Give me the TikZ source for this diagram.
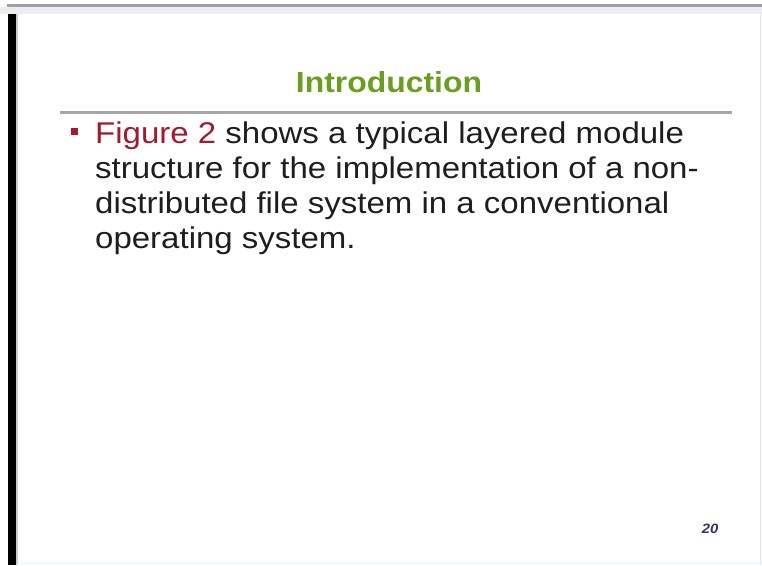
\documentclass[tikz,border=0pt]{standalone}
\usepackage{fontspec}
\setmainfont{Liberation Sans}[FakeStretch=1.1]
\usetikzlibrary{positioning}
\definecolor{titlegreen}{HTML}{6B9E1F}
\definecolor{figred}{HTML}{A3192F}
\definecolor{textgray}{HTML}{1E1E1E}
\definecolor{barblue}{HTML}{9DA1AD}
\definecolor{pagenum}{HTML}{33336E}

\begin{document}
\begin{tikzpicture}[x=1pt,y=-1pt,
  bodyline/.style={anchor=base west,inner sep=0pt,text=textgray,font=\fontsize{30}{35}\selectfont}]
{
\useasboundingbox (0,0) rectangle (762,565);
\fill[white] (0,0) rectangle (762,565);
\fill[gray!14] (0,7) rectangle (762,14);
\fill[barblue] (7,4) rectangle (762,7);
\fill[black] (8,14) rectangle (16,565);
\fill[gray!40] (16,14) rectangle (17.5,565);
\draw[gray!20] (760.5,14) -- (760.5,565);
\draw[cyan!12,line width=1.5pt] (17,563.5) -- (762,563.5);
\node[inner sep=0pt,anchor=base,text=titlegreen,font=\fontsize{29}{34}\selectfont\bfseries] (title) at (389,92) {Introduction};
\draw[gray!70,line width=3pt] (60,112) -- (732,112);
\fill[figred] (71,128) rectangle (77.5,134.5);
\node[bodyline] (line1) at (95,143) {\textcolor{figred}{Figure 2} shows a typical layered module};
\foreach \i/\y/\txt in {2/178/structure for the implementation of a non-,
  3/213/distributed file system in a conventional,
  4/248/operating system.}{
\node[bodyline] (line\i) at (95,\y) {\txt};
}
\node[inner sep=0pt,text=pagenum,font=\fontsize{13.5}{15}\selectfont\bfseries\itshape] (page) at (710,529) {20};
}
\end{tikzpicture}
\end{document}
